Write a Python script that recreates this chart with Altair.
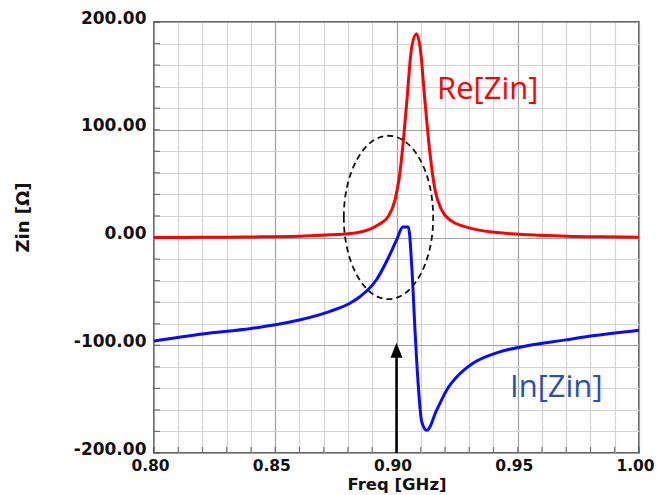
import altair as alt
import pandas as pd

# ---- data ----
re_freq = [0.800, 0.820, 0.840, 0.860, 0.8726, 0.8836, 0.8891, 0.8925, 0.8966, 0.8994,
           0.9012, 0.9026, 0.9042, 0.9063, 0.9083, 0.9097, 0.9118, 0.9138, 0.9159,
           0.9186, 0.9220, 0.9303, 0.9413, 0.955, 0.970, 0.985, 1.000]
re_vals = [0.0, 0.2, 0.5, 1.2, 2.5, 4.5, 7.8, 11.8, 19.5, 35.0,
           56.6, 84.5, 124.7, 177.0, 189.0, 177.0, 124.7, 78.0, 44.0,
           25.7, 16.4, 8.7, 4.6, 2.5, 1.2, 0.6, 0.3]

im_freq = [0.800, 0.820, 0.840, 0.850, 0.860, 0.8726, 0.8808, 0.8849, 0.8918, 0.8966,
           0.9001, 0.9026, 0.9049, 0.9063, 0.9077, 0.9090, 0.9104, 0.9125, 0.9166,
           0.9214, 0.9248, 0.9317, 0.9413, 0.955, 0.970, 0.980, 1.000]
im_vals = [-96.0, -89.5, -84.5, -81.0, -76.5, -68.5, -61.0, -55.0, -39.0, -19.0,
           -2.0, 9.7, 9.7, -27.0, -89.0, -138.0, -171.0, -179.0, -160.0,
           -139.0, -129.5, -116.5, -107.0, -100.0, -95.0, -91.5, -86.0]

x_ticks = [0.80, 0.81, 0.82, 0.83, 0.84, 0.85, 0.86, 0.87, 0.88, 0.89, 0.90,
           0.91, 0.92, 0.93, 0.94, 0.95, 0.96, 0.97, 0.98, 0.99, 1.00]
y_ticks = [-200, -180, -160, -140, -120, -100, -80, -60, -40, -20, 0,
           20, 40, 60, 80, 100, 120, 140, 160, 180, 200]

labels_text = ["Re[Zin]", "In[Zin]"]
labels_f = [0.9167, 0.9468]
labels_v = [128.7, -147.6]
labels_color = ["#ff0000", "#2f4fb0"]

ellipse_f = [0.8967]
ellipse_v = [18.6]

arrow_f = [0.90]
arrow_from = [-200.0]
arrow_to = [-104.0]
arrow_head = [-104.7]

# ---- tables ----
re_df = pd.DataFrame({"f": re_freq, "v": re_vals})
im_df = pd.DataFrame({"f": im_freq, "v": im_vals})
lab_df = pd.DataFrame({"f": labels_f, "v": labels_v, "t": labels_text, "c": labels_color})
ell_df = pd.DataFrame({"f": ellipse_f, "v": ellipse_v})
arr_df = pd.DataFrame({"f": arrow_f, "v": arrow_from, "v2": arrow_to, "h": arrow_head})
xt_df = pd.DataFrame({"f": x_ticks})
yt_df = pd.DataFrame({"v": y_ticks})

FONT = "DejaVu Sans"

x_axis = alt.Axis(
    values=x_ticks,
    tickCount=40,
    labelExpr="round(datum.value*100) % 5 === 0 ? format(datum.value, '.2f') : ''",
    title="Freq [GHz]",
    grid=True,
    gridColor={"condition": {"test": "round(datum.value*100) % 5 === 0", "value": "#a0a0a0"},
               "value": "#d2d2d2"},
    gridWidth=1.2,
    ticks=False,
    domain=False,
    labelFont=FONT, labelFontWeight="bold", labelFontSize=15.5, labelColor="#111",
    labelPadding=5, labelFlush=False, labelOverlap=False, labelOffset=-4,
    titleFont=FONT, titleFontWeight="bold", titleFontSize=16.5, titleColor="#111",
    titleY=36, titleBaseline="alphabetic",
)
y_axis = alt.Axis(
    values=y_ticks,
    tickCount=40,
    labelExpr="datum.value % 100 === 0 ? (datum.value < 0 ? '-' : '') + format(abs(datum.value), '.2f') : ''",
    title="Zin [Ω]",
    grid=True,
    gridColor={"condition": {"test": "datum.value % 100 === 0", "value": "#a0a0a0"},
               "value": "#d2d2d2"},
    gridWidth=1.2,
    ticks=False,
    domain=False,
    labelFont=FONT, labelFontWeight="bold", labelFontSize=17, labelColor="#111",
    labelPadding=8, labelOverlap=False, labelBaseline="alphabetic", labelOffset=1,
    titleFont=FONT, titleFontWeight="bold", titleFontSize=18, titleColor="#111",
    titleX=-126, titleY=195, titleBaseline="alphabetic", titleAlign="center",
)

y_scale = alt.Scale(domain=[-200, 200], nice=False, zero=False)
x_enc = alt.X("f:Q", scale=alt.Scale(domain=[0.8, 1.0], nice=False, zero=False), axis=x_axis)
y_enc = alt.Y("v:Q", scale=y_scale, axis=y_axis)

im_line = alt.Chart(im_df).mark_line(color="#0a0aff", strokeWidth=3, interpolate="monotone").encode(
    x=x_enc, y=y_enc)
re_line = alt.Chart(re_df).mark_line(color="#ff0000", strokeWidth=3, interpolate="monotone").encode(
    x=x_enc, y=y_enc)

x_minor = alt.Chart(xt_df).mark_tick(orient="vertical", color="#444", size=6, thickness=1.2, yOffset=-3).encode(
    x=x_enc, y=alt.datum(-200))
y_minor = alt.Chart(yt_df).mark_tick(orient="horizontal", color="#444", size=6, thickness=1.2, xOffset=3).encode(
    y=y_enc, x=alt.datum(0.8))

ellipse = alt.Chart(ell_df).mark_point(
    shape="M -0.547 0 A 0.547 1 0 1 1 0.547 0 A 0.547 1 0 1 1 -0.547 0 Z",
    filled=False, stroke="#111", strokeWidth=1.8, strokeDash=[6, 4], opacity=1, size=26700,
).encode(x=x_enc, y=y_enc)

shaft = alt.Chart(arr_df).mark_rule(color="#000", strokeWidth=2.5).encode(
    x=x_enc, y=y_enc, y2="v2:Q")
head = alt.Chart(arr_df).mark_point(
    shape="M 0 -1 L 0.8 1 L -0.8 1 Z", filled=True, color="#000", opacity=1, size=225,
).encode(x=x_enc, y=alt.Y("h:Q", scale=y_scale, axis=y_axis))

labels = alt.Chart(lab_df).mark_text(
    align="left", baseline="alphabetic", font="Open Sans", fontSize=31,
).encode(x=x_enc, y=y_enc, text="t:N", color=alt.Color("c:N", scale=None))

chart = alt.layer(
    im_line, re_line, x_minor, y_minor, ellipse, shaft, head, labels
).properties(
    width=485, height=431,
    autosize=alt.AutoSizeParams(type="none"),
    padding={"left": 154, "top": 22, "right": 18, "bottom": 42},
    background="white",
).configure_view(
    stroke="#333", strokeWidth=1.5
)

chart.save("out.html", embed_options={"renderer": "svg", "actions": False})
